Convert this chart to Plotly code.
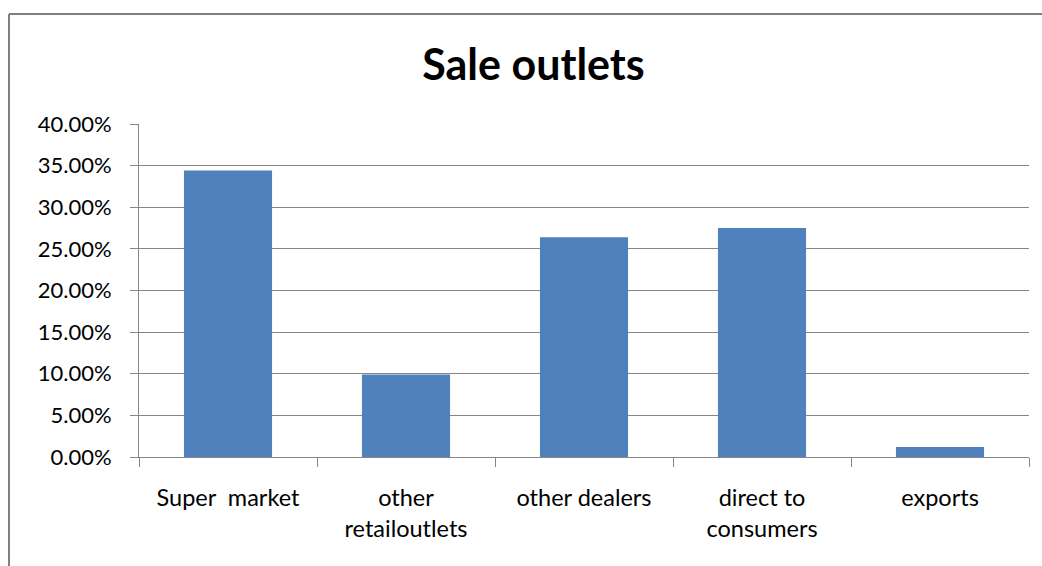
import plotly.graph_objects as go

categories = ["Super  market", "other<br>retailoutlets", "other dealers", "direct to<br>consumers", "exports"]
shares = [0.344, 0.099, 0.264, 0.275, 0.012]
y_ticks = [0.0, 0.05, 0.10, 0.15, 0.20, 0.25, 0.30, 0.35, 0.40]

W, H = 1042, 566
ml, mr, mt, mb = 139, 13, 124, 109
pw = W - ml - mr
ph = H - mt - mb

fig = go.Figure(go.Bar(x=categories, y=shares, marker_color="#4F81BD", marker_line_width=0))

grid = "#868686"
fig.update_layout(
    width=W, height=H,
    margin=dict(l=ml, r=mr, t=mt, b=mb),
    paper_bgcolor="white", plot_bgcolor="white",
    bargap=0.505,
    showlegend=False,
    font=dict(family="Lato", size=22, color="#000000"),
    title=dict(text="<b>Sale outlets</b>", x=0.512, xanchor="center", y=1 - 65/H, yanchor="middle",
               yref="container", font=dict(family="Lato", size=43, color="#000000")),
    xaxis=dict(type="category", showline=True, linecolor=grid, linewidth=1,
               ticks="outside", ticklen=9, tickcolor=grid, tickson="boundaries",
               showgrid=False, ticklabelstandoff=20, tickfont=dict(size=23.5)),
    yaxis=dict(range=[0, 0.40], tickvals=y_ticks, tickformat=".2%", showline=True, linecolor=grid,
               linewidth=1, ticks="outside", ticklen=8, tickcolor=grid, showgrid=True,
               gridcolor=grid, gridwidth=1, zeroline=False, ticklabelstandoff=14,
               tickfont=dict(size=22)),
    shapes=[
        dict(type="line", xref="paper", yref="paper",
             x0=(9 - ml)/pw, x1=(9 - ml)/pw, y0=(H - 14 - mb)/ph, y1=(0 - mb - 5)/ph,
             line=dict(color="#808080", width=2)),
        dict(type="line", xref="paper", yref="paper",
             x0=(9 - ml)/pw, x1=(W + 5 - ml)/pw, y0=(H - 14 - mb)/ph, y1=(H - 14 - mb)/ph,
             line=dict(color="#808080", width=2)),
    ],
)

fig.write_html("out.html")
